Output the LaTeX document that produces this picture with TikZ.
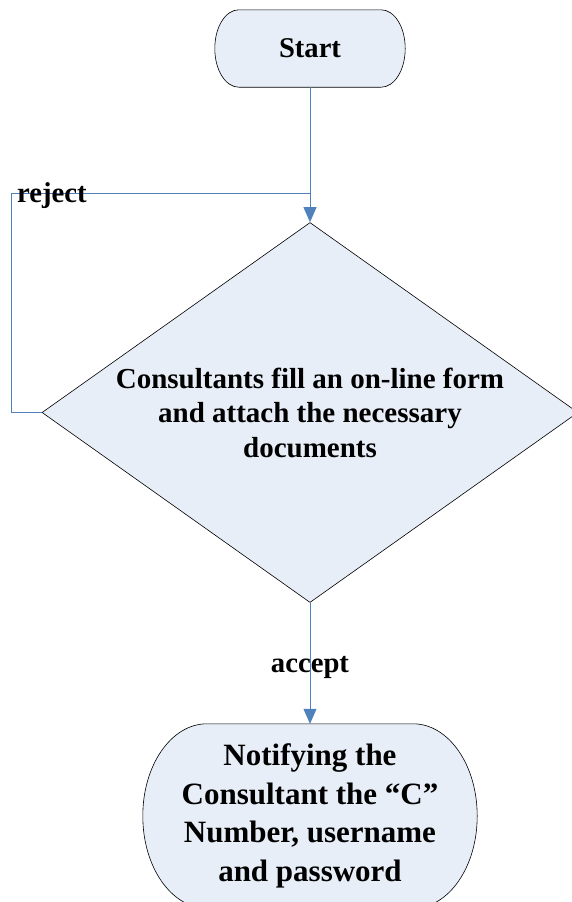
\documentclass[tikz,border=0pt]{standalone}
\usepackage{fontspec}
\setmainfont{Liberation Serif}
\usetikzlibrary{
  arrows.meta,
  backgrounds,
  positioning,
  shapes.geometric,
}
\definecolor{boxfill}{HTML}{E8EEF7}
\definecolor{flowblue}{HTML}{4F81BD}
\tikzset{
  x = 1pt,
  y = -1pt,
  termline/.style={draw=black, fill=boxfill, line width=.6pt},
  flow/.style={draw=flowblue, line width=.8pt},
  >={Triangle[length=15pt, width=13pt]},
}
% outline of a terminal box: node, x radius, y radius
\newcommand{\termoutline}[3]{%
  \draw[termline] ([xshift=#2]#1.north west) -- ([xshift=-#2]#1.north east)
  arc[start angle=90, end angle=0, x radius=#2, y radius=#3]
  -- ([yshift=#3]#1.south east)
  arc[start angle=0, end angle=-90, x radius=#2, y radius=#3]
  -- ([xshift=#2]#1.south west)
  arc[start angle=270, end angle=180, x radius=#2, y radius=#3]
  -- ([yshift=-#3]#1.north west)
  arc[start angle=180, end angle=90, x radius=#2, y radius=#3] -- cycle;}

\begin{document}
\begin{tikzpicture}[
  lbl/.style={inner sep=0pt, font=\fontsize{28.7}{34}\selectfont\bfseries},
  term/.style={draw=none, inner sep=0pt, align=center},
  decision/.style={
    diamond, draw=black, fill=boxfill, line width=.6pt,
    aspect=1.41, minimum width=536pt, minimum height=380pt,
    inner sep=0pt, align=center,
    font=\fontsize{29}{34.5}\selectfont\bfseries,
  },]
  \useasboundingbox (0,0) rectangle (571,902);
  %%
  \node[term, minimum width=190pt, minimum height=77pt,
  font=\fontsize{28.6}{34}\selectfont\bfseries]
  (Start) at (310,48.5) {Start};
  \node[decision, below=135pt of Start]
  (Form) {Consultants fill an on-line form\\and attach the necessary\\documents};
  \node[term, below=121pt of Form, minimum width=334pt, minimum height=184pt,
  font=\fontsize{31}{38.5}\selectfont\bfseries]
  (Notify) {Notifying the\\Consultant the “C”\\Number, username\\and password};
  %%
  \begin{scope}[on background layer]
    \termoutline{Start}{24pt}{38.5pt}
    \termoutline{Notify}{64pt}{92pt}
  \end{scope}
  %%
  \coordinate (merge) at ([yshift=-106pt]Start.south);
  \draw[flow,->] (Start) -- (Form);
  \draw[flow] (Form.west) -- ++(-30,0)
  |- node[lbl, pos=.5, anchor=base west, xshift=5pt, yshift=-9pt]
  (rejectlbl) {reject} (merge);
  %%
  \draw[flow,->] (Form)
  -- node[lbl, pos=.58, anchor=base] (acceptlbl) {accept} (Notify);
\end{tikzpicture}
\end{document}
